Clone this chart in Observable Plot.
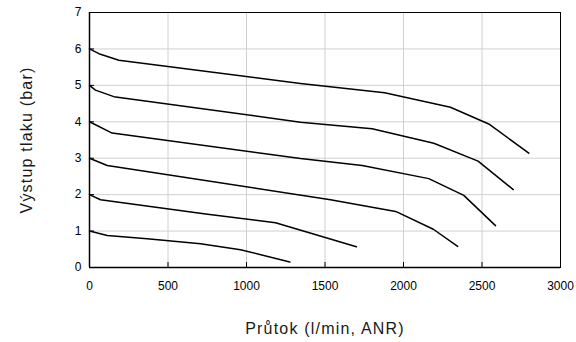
<!DOCTYPE html>
<html>
<head>
<meta charset="utf-8">
<script src="https://cdn.jsdelivr.net/npm/d3@7"></script>
<script src="https://cdn.jsdelivr.net/npm/@observablehq/plot@0.6"></script>
<style>
  body { margin: 0; background: white; }
</style>
</head>
<body>
<div id="chart"></div>
<script>
// Tick values
const xTicks = [0, 500, 1000, 1500, 2000, 2500, 3000];
const yTicks = [0, 1, 2, 3, 4, 5, 6, 7];

// Axis titles
const xLabel = "Průtok (l/min, ANR)";
const yLabel = "Výstup tlaku (bar)";

// Series: inlet setting (bar) -> flow (l/min, ANR) and outlet pressure (bar)
const flow1 = [0, 113, 367, 707, 962, 1276];
const out1  = [1, 0.88, 0.79, 0.65, 0.49, 0.15];

const flow2 = [0, 70, 740, 1185, 1700];
const out2  = [2, 1.86, 1.47, 1.23, 0.57];

const flow3 = [0, 113, 1535, 1950, 2190, 2345];
const out3  = [3, 2.80, 1.86, 1.54, 1.05, 0.58];

const flow4 = [0, 144, 1344, 1737, 2161, 2384, 2586];
const out4  = [4, 3.69, 2.99, 2.80, 2.44, 1.98, 1.15];

const flow5 = [0, 38, 155, 1344, 1800, 2193, 2475, 2699];
const out5  = [5, 4.87, 4.69, 3.99, 3.81, 3.41, 2.92, 2.14];

const flow6 = [0, 60, 187, 1344, 1880, 2299, 2543, 2798];
const out6  = [6, 5.87, 5.69, 5.05, 4.80, 4.40, 3.94, 3.14];

const seriesNames = ["1", "2", "3", "4", "5", "6"];
const flows = [flow1, flow2, flow3, flow4, flow5, flow6];
const outs = [out1, out2, out3, out4, out5, out6];

const rows = [];
seriesNames.forEach((s, i) => {
  flows[i].forEach((f, j) => rows.push({series: s, flow: f, out: outs[i][j]}));
});

const chart = Plot.plot({
  width: 576,
  height: 342,
  marginLeft: 89,
  marginRight: 16,
  marginTop: 12,
  marginBottom: 75,
  style: {
    fontFamily: "'Liberation Sans', Arial, sans-serif",
    fontSize: "12px",
    background: "white",
    color: "black"
  },
  x: {domain: [0, 3000]},
  y: {domain: [0, 7]},
  marks: [
    Plot.gridX(xTicks, {stroke: "#d0d0d0", strokeOpacity: 1, strokeWidth: 1}),
    Plot.gridY(yTicks, {stroke: "#d0d0d0", strokeOpacity: 1, strokeWidth: 1}),
    Plot.axisX(xTicks, {tickSize: 0, tickPadding: 14, label: null, tickFormat: d => String(d)}),
    Plot.axisX(xTicks, {tickSize: -5, tickFormat: () => "", label: null}),
    Plot.axisY(yTicks, {tickSize: 0, tickPadding: 8, label: null, tickFormat: d => String(d)}),
    Plot.axisY(yTicks, {tickSize: -5, tickFormat: () => "", label: null}),
    Plot.frame({stroke: "black", strokeWidth: 1}),
    Plot.ruleX([0], {stroke: "black", strokeWidth: 1.5}),
    Plot.ruleY([0], {stroke: "black", strokeWidth: 1.5}),
    Plot.line(rows, {x: "flow", y: "out", z: "series", stroke: "black", strokeWidth: 1.5}),
    Plot.text([xLabel], {text: d => d, frameAnchor: "bottom", dy: 61, fontSize: 16, fill: "#1a1a1a", textAnchor: "middle", lineAnchor: "middle"}),
    Plot.text([yLabel], {text: d => d, frameAnchor: "left", dx: -63, rotate: -90, fontSize: 16, fill: "#1a1a1a", textAnchor: "middle", lineAnchor: "middle"})
  ]
});

d3.select(chart).selectAll("text")
  .filter(function() { return this.textContent === xLabel || this.textContent === yLabel; })
  .style("letter-spacing", "1.2px");

document.getElementById("chart").appendChild(chart);
</script>
</body>
</html>
